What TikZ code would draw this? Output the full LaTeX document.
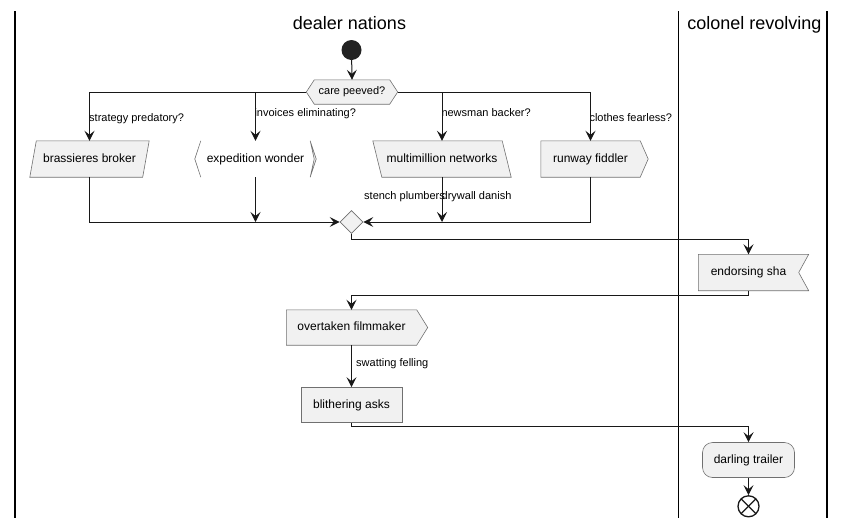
\documentclass[tikz,border=0pt]{standalone}
\usepackage{fontspec}
\setmainfont{Liberation Sans}
\usetikzlibrary{arrows.meta,calc,shapes.geometric}
\definecolor{boxfill}{HTML}{F1F1F1}
\definecolor{boxline}{HTML}{707070}
\definecolor{ink}{HTML}{181818}
\definecolor{startfill}{HTML}{222222}
\pgfdeclarelayer{background}
\pgfsetlayers{background,main}
\begin{document}
\begin{tikzpicture}[x=1pt,y=-1pt,
  arr/.style={draw=ink,line width=1pt,-{Stealth[length=10pt,width=10pt,inset=4pt]}},
  boxtext/.style={inner sep=0pt,font=\fontsize{12}{14}\selectfont,text height=8.8pt,text depth=2.6pt},
  shapeline/.style={draw=boxline,fill=boxfill,line width=0.6pt},
  lbl/.style={inner sep=0pt,font=\fontsize{11}{13}\selectfont,anchor=base west},
  lanetitle/.style={inner sep=0pt,font=\fontsize{18}{20}\selectfont,anchor=base},
  lane/.style={draw=black,line width=1.7pt}]
\useasboundingbox (0,0) rectangle (846,528);

% swimlanes
\draw[lane] (15,11) -- (15,518);
\draw[lane] (678.5,11) -- (678.5,518);
\draw[lane] (827,11) -- (827,518);
\node[lanetitle] (t1) at (349.5,29.5) {dealer nations};
\node[lanetitle] (t2) at (754.5,29.5) {colonel revolving};

% start
\node[circle,fill=startfill,minimum size=20pt,inner sep=0pt] (start) at (351.5,50) {};

% decision
\node[boxtext,font=\fontsize{11}{13}\selectfont,text height=8pt,text depth=2.4pt,minimum width=91pt,minimum height=24pt] (dec) at (352,92) {care peeved?};
\begin{pgfonlayer}{background}
\draw[shapeline] (dec.west) -- ($(dec.north west)+(8,0)$) -- ($(dec.north east)+(-8,0)$) -- (dec.east) -- ($(dec.south east)+(-8,0)$) -- ($(dec.south west)+(8,0)$) -- cycle;
\end{pgfonlayer}

% branch boxes
\node[boxtext,minimum width=119pt,minimum height=36pt] (bb) at (89.5,159) {brassieres broker};
\node[boxtext,minimum width=121pt,minimum height=36pt] (ew) at (255.5,159) {expedition wonder};
\node[boxtext,minimum width=138pt,minimum height=36pt] (mm) at (442,159) {multimillion networks};
\node[boxtext,minimum width=99pt,minimum height=36pt] (rf) at (590.5,159) {runway fiddler};
\begin{pgfonlayer}{background}
\draw[shapeline] (bb.south west) -- ($(bb.north west)+(6.5,0)$) -- (bb.north east) -- ($(bb.south east)+(-6.5,0)$) -- cycle;
\draw[draw=boxline,line width=0.6pt] ($(ew.north west)+(6,0)$) -- (ew.west) -- ($(ew.south west)+(6,0)$);
\draw[shapeline] ($(ew.north east)+(-6,0)$) -- (ew.east) -- ($(ew.south east)+(-6,0)$) -- ($(ew.east)+(-2,0)$) -- cycle;
\draw[shapeline] (mm.north west) -- ($(mm.north east)+(-9,0)$) -- (mm.south east) -- ($(mm.south west)+(9,0)$) -- cycle;
\draw[shapeline] (rf.north west) -- (rf.north east) -- ($(rf.east)+(8,0)$) -- (rf.south east) -- (rf.south west) -- cycle;
\end{pgfonlayer}

% merge
\node[diamond,aspect=1,draw=boxline,fill=boxfill,line width=0.6pt,minimum size=23pt,inner sep=0pt] (mg) at (351.5,222) {};

% right lane / lower
\node[boxtext,minimum width=100pt,minimum height=36pt] (es) at (748.5,272.5) {endorsing sha};
\node[boxtext,minimum width=130pt,minimum height=35pt] (ot) at (351.5,327.5) {overtaken filmmaker};
\begin{pgfonlayer}{background}
\draw[shapeline] (es.north west) -- ($(es.north east)+(10,0)$) -- (es.east) -- ($(es.south east)+(10,0)$) -- (es.south west) -- cycle;
\draw[shapeline] (ot.north west) -- (ot.north east) -- ($(ot.east)+(11,0)$) -- (ot.south east) -- (ot.south west) -- cycle;
\end{pgfonlayer}
\node[boxtext,draw=boxline,fill=boxfill,line width=0.6pt,minimum width=101pt,minimum height=35pt] (bl) at (351.5,405) {blithering asks};
\node[boxtext,draw=boxline,fill=boxfill,line width=0.6pt,rounded corners=10pt,minimum width=92pt,minimum height=35pt] (dt) at (748.5,460) {darling trailer};
\node[circle,draw=ink,fill=white,line width=1.3pt,minimum size=21pt,inner sep=0pt,
  path picture={\draw[ink,line width=1.3pt] ($(path picture bounding box.center)+(-7.5,-7.5)$) -- ($(path picture bounding box.center)+(7.5,7.5)$);
  \draw[ink,line width=1.3pt] ($(path picture bounding box.center)+(-7.5,7.5)$) -- ($(path picture bounding box.center)+(7.5,-7.5)$);}] (end) at (748.5,506.3) {};

% edge labels
\node[lbl] (l1) at (89,121.5) {strategy predatory?};
\node[lbl] (l2) at (254.3,116) {invoices eliminating?};
\node[lbl] (l3) at (441.3,116) {newsman backer?};
\node[lbl] (l4) at (589.3,121) {clothes fearless?};
\node[lbl] (l5) at (364,199) {stench plumbers};
\node[lbl] (l6) at (441.5,199) {drywall danish};
\node[lbl] (l7) at (356,366.7) {swatting felling};

% connectors
\draw[arr] (start) -- (dec.north);
\draw[arr] (dec.west) -| (bb.north);
\draw[arr] (dec.west) -| (ew.north);
\draw[arr] (dec.east) -| (mm.north);
\draw[arr] (dec.east) -| (rf.north);
\draw[arr] (bb.south) |- (mg.west);
\draw[arr] (rf.south) |- (mg.east);
\draw[arr] (ew.south) -- (ew.south |- mg.center);
\draw[arr] (mm.south) -- (mm.south |- mg.center);
\draw[arr] (mg.south) -- ++(0,5.5) -| (es.north);
\draw[arr] (es.south) -- ++(0,4.5) -| (ot.north);
\draw[arr] (ot.south) -- (bl.north);
\draw[arr] (bl.south) -- ++(0,3.5) -| (dt.north);
\draw[arr] (dt.south) -- (end.north);
\end{tikzpicture}
\end{document}
